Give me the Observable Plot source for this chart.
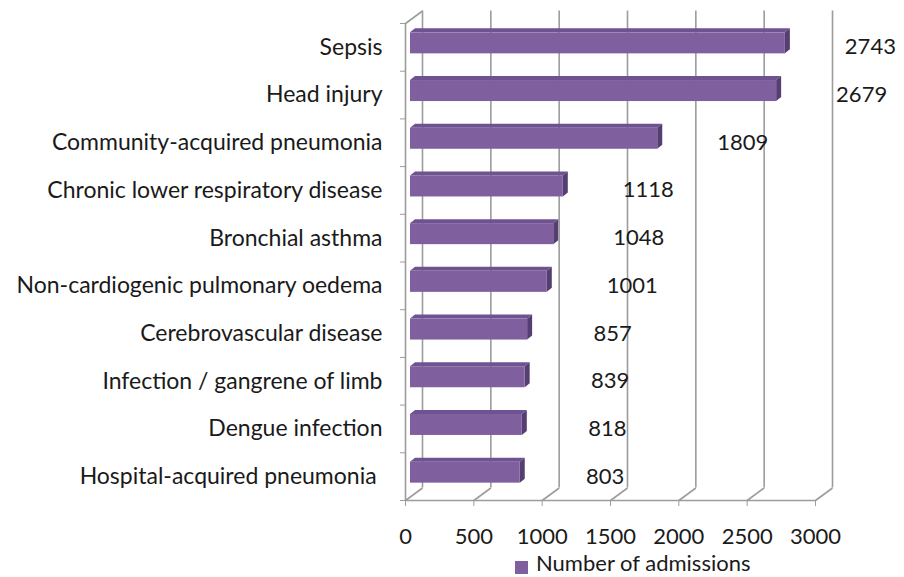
<!DOCTYPE html>
<html>
<head>
<meta charset="utf-8">
<script src="https://cdn.jsdelivr.net/npm/d3@7"></script>
<script src="https://cdn.jsdelivr.net/npm/@observablehq/plot@0.6"></script>
<style>
  html, body { margin: 0; padding: 0; background: #fff; }
  #legend { position: relative; height: 25px; font-family: Lato, sans-serif; font-size: 22px; color: #1a1a1a; }
  #legend .sw { position: absolute; left: 515px; top: 9px; width: 13px; height: 13px; background: #7F5F9D; }
  #legend .lb { position: absolute; left: 536px; top: 1px; line-height: 20px; white-space: nowrap; }
</style>
</head>
<body>
<div id="chart"></div>
<div id="legend"><span class="sw"></span><span class="lb"></span></div>
<script>
const categories = [
  "Sepsis",
  "Head injury",
  "Community-acquired pneumonia",
  "Chronic lower respiratory disease",
  "Bronchial asthma",
  "Non-cardiogenic pulmonary oedema",
  "Cerebrovascular disease",
  "Infection / gangrene of limb",
  "Dengue infection",
  "Hospital-acquired pneumonia\u00a0"
];
const admissions = [2743, 2679, 1809, 1118, 1048, 1001, 857, 839, 818, 803];
const xTicks = [0, 500, 1000, 1500, 2000, 2500, 3000];
const seriesName = "Number of admissions";

const W = 904, H = 552, mL = 405, mR = 89, mT = 23, mB = 52;
const kx = (W - mL - mR) / 3000;
const ky = (H - mT - mB) / categories.length;
const DX = 17 / kx, DY = 12.5 / ky;       // depth of the 3D box
const sDX = 5 / kx, sDY = 4 / ky;         // depth of each bar
const bh = 21 / ky;                       // bar thickness
const grid = "#9c9c9c";
const barFill = "#7F5F9D", barTop = "#6F5290", barSide = "#553F72";

const rows = categories.map((c, i) => ({c, i, v: admissions[i], yc: i + 0.5}));
const topPts = rows.flatMap(d => [
  {i: d.i, y: d.yc - bh / 2, x1: 0, x2: d.v},
  {i: d.i, y: d.yc - bh / 2 - sDY, x1: sDX, x2: d.v + sDX}
]);
const sidePts = rows.flatMap(d => [
  {i: d.i, x: d.v, y1: d.yc + bh / 2, y2: d.yc - bh / 2},
  {i: d.i, x: d.v + sDX, y1: d.yc + bh / 2 - sDY, y2: d.yc - bh / 2 - sDY}
]);

const chart = Plot.plot({
  width: W, height: H,
  marginLeft: mL, marginRight: mR, marginTop: mT, marginBottom: mB,
  style: {fontFamily: "Lato, sans-serif", fontSize: "23px", color: "#1a1a1a", background: "#fff"},
  x: {domain: [0, 3000], label: null},
  y: {domain: [0, categories.length], reverse: true, label: null},
  marks: [
    Plot.ruleX(xTicks, {x: d => d, y1: () => 0, y2: () => categories.length, dx: 17, dy: -12.5, stroke: grid, strokeWidth: 1.6}),
    Plot.link(xTicks, {x1: d => d, y1: () => categories.length, x2: d => d + DX, y2: () => categories.length - DY, stroke: grid, strokeWidth: 1.6}),
    Plot.link([0], {x1: () => 0, y1: () => 0, x2: () => DX, y2: () => -DY, stroke: grid, strokeWidth: 1.6}),
    Plot.ruleX([0], {x: d => d, y1: () => 0, y2: () => categories.length, stroke: grid, strokeWidth: 1.6}),
    Plot.ruleY([categories.length], {y: d => d, x1: () => 0, x2: () => 3000, stroke: grid, strokeWidth: 1.6}),
    Plot.areaX(topPts, {x1: "x1", x2: "x2", y: "y", z: "i", fill: barTop, dx: 5, dy: -4}),
    Plot.areaY(sidePts, {x: "x", y1: "y1", y2: "y2", z: "i", fill: barSide, dx: 5, dy: -4}),
    Plot.rect(rows, {x1: () => 0, x2: "v", y1: d => d.yc - bh / 2, y2: d => d.yc + bh / 2, fill: barFill, dx: 5, dy: -4}),
    Plot.text(rows, {x: "v", y: "yc", text: d => String(d.v), dx: 90, textAnchor: "middle", fill: "#1a1a1a", fontSize: 22}),
    Plot.axisX({ticks: xTicks, tickSize: 6, tickPadding: 22, stroke: grid, fill: "#1a1a1a", fontSize: 22, tickFormat: d => String(d)}),
    Plot.axisY({ticks: d3.range(categories.length + 1), tickSize: 5, stroke: grid, tickFormat: () => ""}),
    Plot.axisY({ticks: rows.map(d => d.yc), tickSize: 0, tickPadding: 23, fill: "#1a1a1a", tickFormat: d => categories[Math.floor(d)]})
  ]
});
document.getElementById("chart").appendChild(chart);
document.querySelector("#legend .lb").textContent = seriesName;
</script>
</body>
</html>
